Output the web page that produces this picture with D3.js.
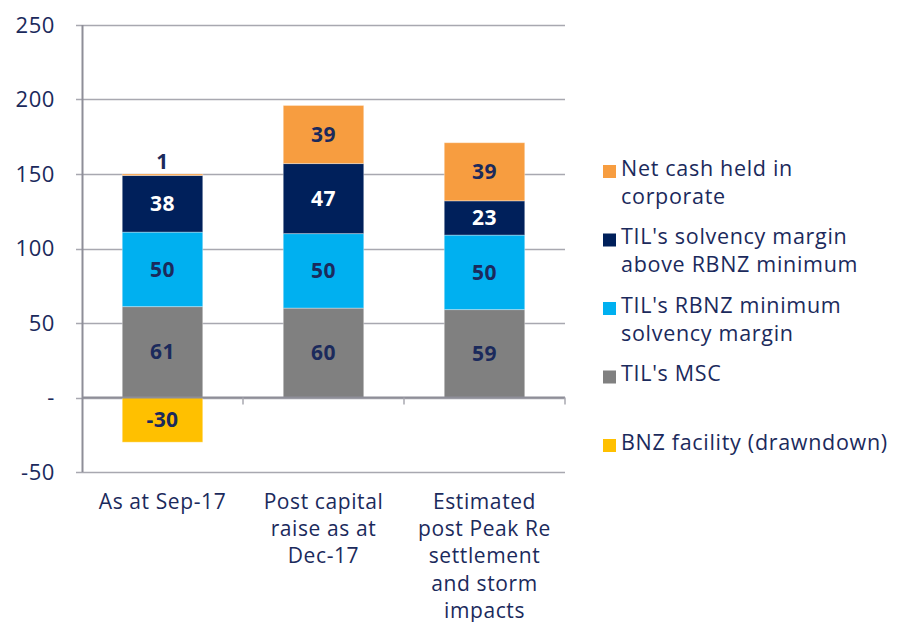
<!DOCTYPE html>
<html>
<head>
<meta charset="utf-8">
<script src="https://cdn.jsdelivr.net/npm/d3@7"></script>
<style>
  body { margin: 0; background: #fff; }
  svg text { font-family: 'Open Sans', 'Lato', sans-serif; fill: #1b2a5c; }
</style>
</head>
<body>
<div id="chart"></div>
<script>
const categories = [['As at Sep-17'], ['Post capital', 'raise as at', 'Dec-17'], ['Estimated', 'post Peak Re', 'settlement', 'and storm', 'impacts']];
const seriesKeys = ['msc', 'rbnzMin', 'solvency', 'netCash', 'bnz'];
const seriesNames = {
  netCash: ['Net cash held in', 'corporate'],
  solvency: ['TIL\'s solvency margin', 'above RBNZ minimum'],
  rbnzMin: ['TIL\'s RBNZ minimum', 'solvency margin'],
  msc: ['TIL\'s MSC'],
  bnz: ['BNZ facility (drawndown)']
};
const msc = [61, 60, 59];
const rbnzMin = [50, 50, 50];
const solvency = [38, 47, 23];
const netCash = [1, 39, 39];
const bnz = [-30, 0, 0];
const yTicks = [-50, 0, 50, 100, 150, 200, 250];
const legendOrder = ['netCash', 'solvency', 'rbnzMin', 'msc', 'bnz'];

const colors = { netCash: '#f79d40', solvency: '#00205b', rbnzMin: '#00b0f0', msc: '#808080', bnz: '#ffc000' };
const valuesByKey = { msc, rbnzMin, solvency, netCash, bnz };

const W = 897, H = 622;
const margin = { top: 25, right: 332, bottom: 150, left: 82 };
const width = W - margin.left - margin.right;
const height = H - margin.top - margin.bottom;

const svg = d3.select('#chart').append('svg').attr('width', W).attr('height', H);
const g = svg.append('g').attr('transform', `translate(${margin.left},${margin.top})`);

const x = d3.scaleBand().domain(d3.range(categories.length)).range([0, width]).paddingInner(0.5).paddingOuter(0.25);
const y = d3.scaleLinear().domain([-50, 250]).range([height, 0]);

// gridlines
g.append('g').selectAll('line').data(yTicks).enter().append('line')
  .attr('x1', -6).attr('x2', width)
  .attr('y1', d => Math.round(y(d)) + 0.5).attr('y2', d => Math.round(y(d)) + 0.5)
  .attr('stroke', '#a8a8b0').attr('stroke-width', 1.5);

// y axis labels
g.append('g').selectAll('text').data(yTicks).enter().append('text')
  .attr('x', -27).attr('y', d => y(d)).attr('dy', '0.35em')
  .attr('text-anchor', 'end').style('font-size', '22px').style('letter-spacing', '0.6px')
  .text(d => d === 0 ? '-' : d);

// stacked segments
const rows = categories.map((c, i) => {
  let pos = 0, neg = 0;
  const segs = seriesKeys.map(k => {
    const v = valuesByKey[k][i];
    let y0, y1;
    if (v >= 0) { y0 = pos; y1 = pos + v; pos = y1; } else { y0 = neg + v; y1 = neg; neg = y0; }
    return { k, v, y0, y1, i };
  }).filter(s => s.v !== 0);
  return segs;
});

const bars = g.selectAll('g.bar').data(rows).enter().append('g').attr('class', 'bar')
  .attr('transform', (d, i) => `translate(${x(i)},0)`);

bars.selectAll('rect').data(d => d).enter().append('rect')
  .attr('x', 0).attr('width', x.bandwidth())
  .attr('y', d => y(d.y1)).attr('height', d => y(d.y0) - y(d.y1))
  .attr('fill', d => colors[d.k])
  .attr('stroke', '#ffffff').attr('stroke-opacity', 0.35).attr('stroke-width', 1);

bars.selectAll('text.val').data(d => d).enter().append('text').attr('class', 'val')
  .attr('x', x.bandwidth() / 2)
  .attr('y', d => (y(d.y1) - y(d.y0)) > -12 ? y(d.y1) - 12 : (y(d.y0) + y(d.y1)) / 2)
  .attr('dy', '0.35em').attr('text-anchor', 'middle')
  .style('font-size', '21px').style('font-weight', 700).style('letter-spacing', '0.4px')
  .style('fill', d => d.k === 'solvency' ? '#ffffff' : '#1b2a5c')
  .text(d => d.v);

// axis line
g.append('line').attr('x1', 0.5).attr('x2', 0.5).attr('y1', 0).attr('y2', height)
  .attr('stroke', '#8e8e98').attr('stroke-width', 2);
// zero line with category ticks
g.append('line').attr('x1', 0).attr('x2', width).attr('y1', y(0)).attr('y2', y(0))
  .attr('stroke', '#8e8e98').attr('stroke-width', 2);
g.append('g').selectAll('line').data(d3.range(1, categories.length + 1)).enter().append('line')
  .attr('x1', d => x.step() * d).attr('x2', d => x.step() * d)
  .attr('y1', y(0)).attr('y2', y(0) + 7)
  .attr('stroke', '#a8a8b0').attr('stroke-width', 1.5);

// category labels
const cat = g.selectAll('text.cat').data(categories).enter().append('text').attr('class', 'cat')
  .attr('text-anchor', 'middle').style('font-size', '21px').style('letter-spacing', '0.6px')
  .attr('transform', (d, i) => `translate(${x(i) + x.bandwidth() / 2},${height + 37})`);
cat.selectAll('tspan').data(d => d).enter().append('tspan')
  .attr('x', 0).attr('dy', (d, j) => j === 0 ? 0 : 27.2).text(d => d);

// legend
const legend = svg.append('g').attr('transform', 'translate(603,168)');
const li = legend.selectAll('g').data(legendOrder).enter().append('g')
  .attr('transform', (d, i) => `translate(0,${i * 68.5})`);
li.append('rect').attr('x', 0).attr('y', -3).attr('width', 13).attr('height', 13).attr('fill', d => colors[d]);
const lt = li.append('text').attr('x', 18).attr('y', 0).style('font-size', '21.5px').style('letter-spacing', '0.7px');
lt.selectAll('tspan').data(d => seriesNames[d]).enter().append('tspan')
  .attr('x', 18).attr('dy', (d, j) => j === 0 ? '0.35em' : 28).text(d => d);
</script>
</body>
</html>
